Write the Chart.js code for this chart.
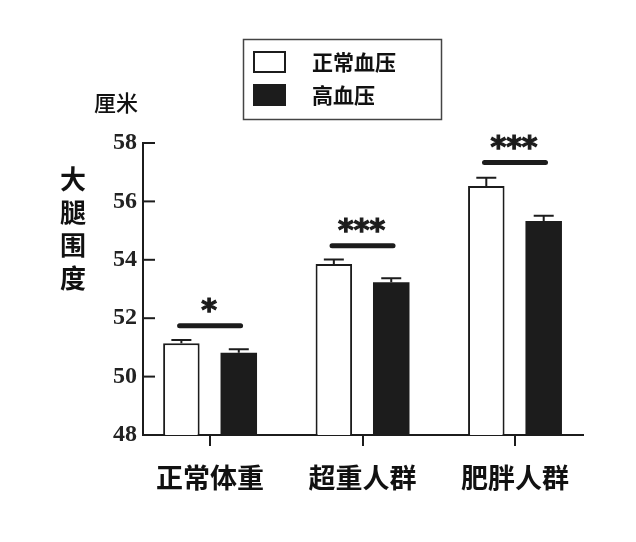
<!DOCTYPE html>
<html>
<head>
<meta charset="utf-8">
<script src="https://cdn.jsdelivr.net/npm/chart.js@4"></script>
<style>
  html, body { margin: 0; padding: 0; background: #fff; }
  #wrap { width: 636px; height: 542px; }
</style>
</head>
<body>
<div id="wrap"><canvas id="chart" width="636" height="542"></canvas></div>
<script>
// 数据
const categories = ['正常体重', '超重人群', '肥胖人群'];
const normalBP = [51.14, 53.86, 56.53];
const highBP = [50.82, 53.23, 55.33];
const normalErr = [0.11, 0.15, 0.28];
const highErr = [0.12, 0.14, 0.18];
const sigLevel = [51.74, 54.48, 57.33];
const sigMarks = ['*', '***', '***'];
const yTicks = [48, 50, 52, 54, 56, 58];

const INK = '#1c1c1c';
const CJK = '"Noto Sans CJK SC", "Noto Sans", sans-serif';

// 误差线 + 显著性标记
const annotations = {
  id: 'annotations',
  afterDatasetsDraw(chart) {
    const { ctx, scales: { x, y } } = chart;
    const errs = [normalErr, highErr];
    ctx.save();
    ctx.strokeStyle = INK;
    ctx.lineWidth = 2;
    chart.data.datasets.forEach((ds, di) => {
      chart.getDatasetMeta(di).data.forEach((bar, i) => {
        const top = y.getPixelForValue(ds.data[i].y + errs[di][i]);
        ctx.beginPath();
        ctx.moveTo(bar.x, bar.y);
        ctx.lineTo(bar.x, top);
        ctx.moveTo(bar.x - 10, top);
        ctx.lineTo(bar.x + 10, top);
        ctx.stroke();
      });
    });

    ctx.lineCap = 'round';
    ctx.fillStyle = INK;
    ctx.strokeStyle = INK;
    ctx.textAlign = 'center';
    ctx.textBaseline = 'alphabetic';
    ctx.font = 'bold 30px "DejaVu Sans"';
    sigLevel.forEach((v, i) => {
      const py = y.getPixelForValue(v);
      ctx.lineWidth = 5;
      ctx.beginPath();
      ctx.moveTo(x.getPixelForValue(i - 0.2), py);
      ctx.lineTo(x.getPixelForValue(i + 0.2), py);
      ctx.stroke();
      ctx.lineWidth = 1.2;
      ctx.strokeText(sigMarks[i], x.getPixelForValue(i) - 1, py - 6);
      ctx.fillText(sigMarks[i], x.getPixelForValue(i) - 1, py - 6);
    });

    // y 轴内侧刻度
    ctx.lineWidth = 2;
    ctx.lineCap = 'butt';
    yTicks.forEach(v => {
      const py = y.getPixelForValue(v);
      ctx.beginPath();
      ctx.moveTo(x.left, py);
      ctx.lineTo(x.left + 12, py);
      ctx.stroke();
    });
    ctx.restore();
  },
  afterDraw(chart) {
    const { ctx } = chart;
    ctx.save();
    ctx.fillStyle = '#111';
    ctx.textAlign = 'center';
    ctx.textBaseline = 'middle';

    // 坐标轴标题
    ctx.font = `bold 26px ${CJK}`;
    ['大', '腿', '围', '度'].forEach((c, i) => ctx.fillText(c, 73, 179 + i * 33));
    ctx.font = `500 22px ${CJK}`;
    ctx.fillText('厘米', 116, 103);

    // 图例
    ctx.strokeStyle = '#444';
    ctx.lineWidth = 1.5;
    ctx.strokeRect(243.5, 39.5, 198, 80);
    ctx.textAlign = 'left';
    ctx.font = `bold 21px ${CJK}`;
    chart.data.datasets.forEach((ds, i) => {
      const cy = 62 + i * 33;
      ctx.fillStyle = ds.backgroundColor;
      ctx.fillRect(254, cy - 10, 31, 20);
      ctx.strokeStyle = INK;
      ctx.lineWidth = 2;
      ctx.strokeRect(254, cy - 10, 31, 20);
      ctx.fillStyle = '#111';
      ctx.fillText(ds.label, 312, cy);
    });
    ctx.restore();
  }
};

new Chart(document.getElementById('chart'), {
  type: 'bar',
  data: {
    datasets: [
      {
        label: '正常血压',
        data: normalBP.map((v, i) => ({ x: i, y: v })),
        backgroundColor: '#ffffff',
        borderColor: INK,
        borderWidth: 2
      },
      {
        label: '高血压',
        data: highBP.map((v, i) => ({ x: i, y: v })),
        backgroundColor: INK,
        borderColor: INK,
        borderWidth: 0
      }
    ]
  },
  options: {
    responsive: false,
    animation: false,
    devicePixelRatio: 1,
    categoryPercentage: 0.753,
    barPercentage: 0.636,
    layout: { padding: { top: 143, right: 53, left: 0, bottom: 0 } },
    plugins: {
      legend: { display: false },
      tooltip: { enabled: false }
    },
    scales: {
      x: {
        type: 'linear',
        offset: false,
        min: -0.44,
        max: 2.446,
        afterBuildTicks: (scale) => { scale.ticks = categories.map((c, i) => ({ value: i })); },
        afterFit: (scale) => { scale.height = 107; },
        grid: { offset: false, drawOnChartArea: false, drawTicks: true, tickLength: 11, lineWidth: 2, color: INK },
        border: { display: true, color: INK, width: 2 },
        ticks: {
          padding: 16,
          color: '#111',
          font: { family: CJK, size: 27, weight: 'bold' },
          callback: (v) => categories[v]
        }
      },
      y: {
        min: 48,
        max: 58,
        afterBuildTicks: (scale) => { scale.ticks = yTicks.map(v => ({ value: v })); },
        afterFit: (scale) => { scale.width = 143; },
        grid: { display: false, drawTicks: false },
        border: { display: true, color: INK, width: 2 },
        ticks: {
          padding: 6,
          color: '#222',
          font: { family: '"Liberation Serif"', size: 24, weight: 'bold' }
        }
      }
    }
  },
  plugins: [annotations]
});
</script>
</body>
</html>
